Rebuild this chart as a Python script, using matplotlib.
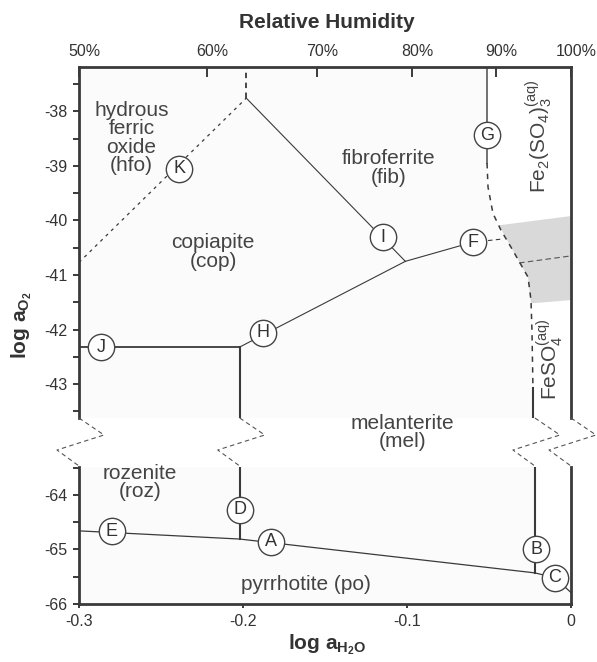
import matplotlib
matplotlib.use("Agg")
import matplotlib.pyplot as plt
import matplotlib.transforms as mtransforms
from matplotlib.lines import Line2D
import numpy as np

plt.rcParams["font.family"] = ["Liberation Sans", "DejaVu Sans"]
plt.rcParams["mathtext.fontset"] = "custom"
plt.rcParams["mathtext.rm"] = "Liberation Sans"
plt.rcParams["mathtext.it"] = "Liberation Sans"
plt.rcParams["mathtext.bf"] = "Liberation Sans:bold"

# ---- data: (log aH2O, log aO2) ----
rh_pct = [50, 60, 70, 80, 90, 100]
x_ticks = [-0.3, -0.2, -0.1, 0]
y_top_ticks = [-38, -39, -40, -41, -42, -43]
y_low_ticks = [-64, -65, -66]

# upper panel
hfo_cop_x = [-0.3, -0.198]
hfo_cop_y = [-40.77, -37.76]
hfo_fib_x = [-0.198, -0.198]
hfo_fib_y = [-37.76, -37.19]
cop_fib_x = [-0.198, -0.101]
cop_fib_y = [-37.76, -40.75]
cop_mel_x = [-0.202, -0.101]
cop_mel_y = [-42.32, -40.75]
fib_mel_x = [-0.101, -0.060]
fib_mel_y = [-40.75, -40.40]
fib_mel_dash_x = [-0.060, -0.0415]
fib_mel_dash_y = [-40.40, -40.34]
aq_split_x = [-0.0317, 0.0]
aq_split_y = [-40.78, -40.65]
cop_roz_x = [-0.3, -0.202]
cop_roz_y = [-42.32, -42.32]
roz_mel_top_x = [-0.202, -0.202]
roz_mel_top_y = [-42.32, -43.62]
fib_aq_x = [-0.051, -0.051]
fib_aq_y = [-37.19, -38.95]
aq_curve_x = [-0.0512, -0.0506, -0.0476, -0.0427, -0.0366, -0.0311,
              -0.0262, -0.0244, -0.0238, -0.0232]
aq_curve_y = [-38.95, -39.39, -39.87, -40.18, -40.49, -40.78,
              -41.04, -41.46, -42.01, -43.07]
mel_aq_top_x = [-0.0232, -0.0232]
mel_aq_top_y = [-43.07, -43.62]
shade_x = [-0.0439, -0.0366, -0.0311, -0.0262, -0.0244, 0.0, 0.0]
shade_y = [-40.09, -40.49, -40.78, -41.04, -41.52, -41.46, -39.92]

# lower panel
roz_mel_low_x = [-0.202, -0.202]
roz_mel_low_y = [-63.49, -64.81]
po_x = [-0.3, -0.202, -0.022, -0.0098, 0.0]
po_y = [-64.66, -64.81, -65.43, -65.52, -65.79]
mel_aq_low_x = [-0.022, -0.022]
mel_aq_low_y = [-63.49, -65.43]

top_pts = {"F": (-0.060, -40.40), "G": (-0.051, -38.44), "H": (-0.188, -42.06),
           "I": (-0.1146, -40.31), "J": (-0.2866, -42.32), "K": (-0.239, -39.05)}
low_pts = {"A": (-0.183, -64.86), "B": (-0.0213, -65.0), "C": (-0.0098, -65.52),
           "D": (-0.202, -64.27), "E": (-0.280, -64.67)}

# ---- layout (pixels) ----
W, H = 597, 662
left, right = 79, 571
top_ax = (67, 418)
low_ax = (467, 604)
ylim_top = (-43.62, -37.19)
ylim_low = (-66.0, -63.49)
ink = "#3a3a3a"
field = "#fbfbfb"

fig = plt.figure(figsize=(W / 100, H / 100), dpi=100)
ax1 = fig.add_axes([left / W, 1 - top_ax[1] / H, (right - left) / W, (top_ax[1] - top_ax[0]) / H])
ax2 = fig.add_axes([left / W, 1 - low_ax[1] / H, (right - left) / W, (low_ax[1] - low_ax[0]) / H])

for ax, yl in ((ax1, ylim_top), (ax2, ylim_low)):
    ax.set_xlim(-0.3, 0.0)
    ax.set_ylim(*yl)
    ax.set_facecolor(field)
    for s in ax.spines.values():
        s.set_linewidth(2.0)
        s.set_color(ink)
    ax.tick_params(axis="y", which="both", direction="out", length=4.5, width=1.4,
                   color=ink, labelsize=11.5, labelcolor="#333", pad=4)
ax1.spines["bottom"].set_visible(False)
ax2.spines["top"].set_visible(False)

ax1.set_yticks(y_top_ticks)
ax1.set_yticks(np.arange(-43.5, -37.4, 1.0), minor=True)
ax1.set_yticklabels([str(v) for v in y_top_ticks])
ax2.set_yticks(y_low_ticks)
ax2.set_yticks([-63.5, -64.5, -65.5], minor=True)
ax2.set_yticklabels([str(v) for v in y_low_ticks])

# humidity scale on top
rh_x = np.clip(np.log10(np.array(rh_pct) / 100.0), -0.3, 0.0)
ax1.xaxis.tick_top()
ax1.set_xticks(rh_x)
ax1.set_xticklabels([f"{v}%" for v in rh_pct])
ax1.tick_params(axis="x", direction="in", length=7, width=1.4, color=ink,
                labelsize=11.5, labelcolor="#333", pad=6)
shift = mtransforms.ScaledTranslation(5 / 100, 0, fig.dpi_scale_trans)
for lab in ax1.get_xticklabels():
    lab.set_transform(lab.get_transform() + shift)

ax2.set_xticks(x_ticks)
ax2.set_xticklabels(["-0.3", "-0.2", "-0.1", "0"])
ax2.tick_params(axis="x", direction="out", length=3, width=1.4, color=ink,
                labelsize=11.5, labelcolor="#333", pad=4)

# aqueous fields are white
ax1.fill(fib_aq_x + aq_curve_x + mel_aq_top_x[1:] + [0.0, 0.0],
         fib_aq_y + aq_curve_y + mel_aq_top_y[1:] + [ylim_top[0], ylim_top[1]],
         color="white", lw=0, zorder=0.5)
ax2.fill([mel_aq_low_x[0], mel_aq_low_x[1], po_x[3], po_x[4], 0.0],
         [mel_aq_low_y[0], mel_aq_low_y[1], po_y[3], po_y[4], ylim_low[1]],
         color="white", lw=0, zorder=0.5)
ax1.fill(shade_x, shade_y, color="#d9d9d9", lw=0, zorder=1)

# boundaries, upper
ax1.plot(hfo_cop_x, hfo_cop_y, color=ink, lw=0.9, ls=(0, (2.5, 3.5)))
ax1.plot(hfo_fib_x, hfo_fib_y, color=ink, lw=1.3, ls=(0, (3, 2.5)))
ax1.plot(cop_fib_x, cop_fib_y, color=ink, lw=0.8)
ax1.plot(cop_mel_x, cop_mel_y, color=ink, lw=0.8)
ax1.plot(fib_mel_x, fib_mel_y, color=ink, lw=0.8)
ax1.plot(fib_mel_dash_x, fib_mel_dash_y, color=ink, lw=0.8, ls=(0, (4, 3)))
ax1.plot(aq_split_x, aq_split_y, color="#555", lw=0.8, ls=(0, (5, 3)))
ax1.plot(cop_roz_x, cop_roz_y, color=ink, lw=1.3)
ax1.plot(roz_mel_top_x, roz_mel_top_y, color=ink, lw=1.5)
ax1.plot(fib_aq_x, fib_aq_y, color="#666", lw=1.3)
ax1.plot(aq_curve_x, aq_curve_y, color=ink, lw=1.1, ls=(0, (3.5, 3.5)))
ax1.plot(mel_aq_top_x, mel_aq_top_y, color=ink, lw=1.5)

# boundaries, lower
ax2.plot(roz_mel_low_x, roz_mel_low_y, color=ink, lw=1.5)
ax2.plot(po_x, po_y, color=ink, lw=0.9)
ax2.plot(mel_aq_low_x, mel_aq_low_y, color=ink, lw=1.5)

# invariant points
for ax, pts in ((ax1, top_pts), (ax2, low_pts)):
    for name, (px, py) in pts.items():
        ax.scatter([px], [py], s=360, facecolor="white", edgecolor="#444",
                   linewidth=1.0, zorder=5, clip_on=False)
        ax.text(px, py, name, ha="center", va="center", fontsize=13,
                color="#333", zorder=6)

# field names
lab = dict(ha="center", va="center", fontsize=15, color="#444", linespacing=0.95)
ax1.text(-0.268, -38.49, "hydrous\nferric\noxide\n(hfo)", **lab)
ax1.text(-0.2183, -40.58, "copiapite\n(cop)", **lab)
ax1.text(-0.111, -39.04, "fibroferrite\n(fib)", **lab)
ax1.text(-0.103, -43.88, "melanterite\n(mel)", clip_on=False, zorder=6, **lab)
ax2.text(-0.263, -63.78, "rozenite\n(roz)", **lab)
ax2.text(-0.1616, -65.65, "pyrrhotite (po)", **lab)
ax1.text(-0.0195, -38.46, r"Fe$_2$(SO$_4$)$_3^{\rm (aq)}$", rotation=90,
         ha="center", va="center", fontsize=15, color="#444")
ax1.text(-0.0128, -42.55, r"FeSO$_4^{\rm (aq)}$", rotation=90,
         ha="center", va="center", fontsize=15, color="#444")

# axis break marks on the vertical boundaries
gap_top = top_ax[1]
for bx in [-0.3, roz_mel_top_x[0], mel_aq_low_x[0], 0.0]:
    xp = left + (bx + 0.3) / 0.3 * (right - left)
    zx = [xp, xp + 25, xp - 22, xp]
    zy = [gap_top, gap_top + 17, gap_top + 32, gap_top + 48]
    fig.add_artist(Line2D([v / W for v in zx], [1 - v / H for v in zy],
                          transform=fig.transFigure, color="#555", lw=0.8,
                          ls=(0, (4, 3))))

fig.text(327 / W, 1 - 23 / H, "Relative Humidity", ha="center", va="center",
         fontsize=15, fontweight="bold", color="#333")
fig.text(327 / W, 1 - 645 / H, r"log a$_{\mathbf{H_2O}}$", ha="center", va="center",
         fontsize=15, fontweight="bold", color="#333")
fig.text(22 / W, 1 - 325 / H, r"log a$_{\mathbf{O_2}}$", ha="center", va="center",
         rotation=90, fontsize=15, fontweight="bold", color="#333")

fig.savefig("out.png", dpi=100, facecolor="white")
